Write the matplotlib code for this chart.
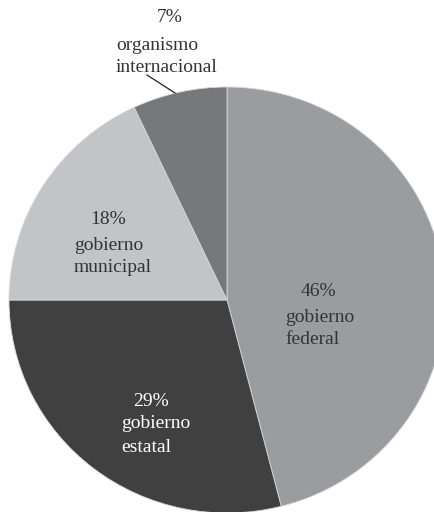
import matplotlib.pyplot as plt

# data
labels = ['gobierno\nfederal', 'gobierno\nestatal', 'gobierno\nmunicipal', 'organismo\ninternacional']
shares = [46, 29, 18, 7]
colors = ['#9b9ca0', '#404040', '#c3c4c8', '#77787c']
text_colors = ['#333333', '#ffffff', '#333333', '#333333']

plt.rcParams['font.family'] = ['Liberation Serif', 'DejaVu Serif']

fig = plt.figure(figsize=(4.35, 5.12), dpi=100)
ax = fig.add_axes([0, 0, 1, 1])

# pixel -> data helper (pie centre at 227,300 px, slightly wider than tall)
CX, CY, RX, RY = 227, 300, 218, 213


def px(x, y):
    return (x - CX) / RX, (CY - y) / RY


ax.pie(shares, colors=colors, startangle=90, counterclock=False,
       radius=1, center=(0, 0),
       wedgeprops=dict(edgecolor='#d8d8d8', linewidth=0.6))

ax.set_xlim(px(0, 0)[0], px(435, 0)[0])
ax.set_ylim(px(0, 512)[1], px(0, 0)[1])
ax.set_aspect('auto')
ax.axis('off')

# label blocks: (percent centre x, percent y, name left x, name first y)
spots = [(318, 292, 285, 317),
         (151, 402, 121, 424),
         (108, 220, 74, 245),
         (170, 18, 116, 45)]
fs = 14
for share, lab, tc, (pcx, pcy, nx, ny) in zip(shares, labels, text_colors, spots):
    ax.text(*px(pcx, pcy), f'{share}%', ha='center', va='center',
            fontsize=fs, color=tc)
    for k, line in enumerate(lab.split('\n')):
        ax.text(*px(nx, ny + 23 * k), line, ha='left', va='center',
                fontsize=fs, color=tc)

# leader line for the small slice
x0, y0 = px(147, 75)
x1, y1 = px(175, 93)
ax.plot([x0, x1], [y0, y1], color='#222222', lw=0.9)

fig.savefig('out.png', dpi=100)
